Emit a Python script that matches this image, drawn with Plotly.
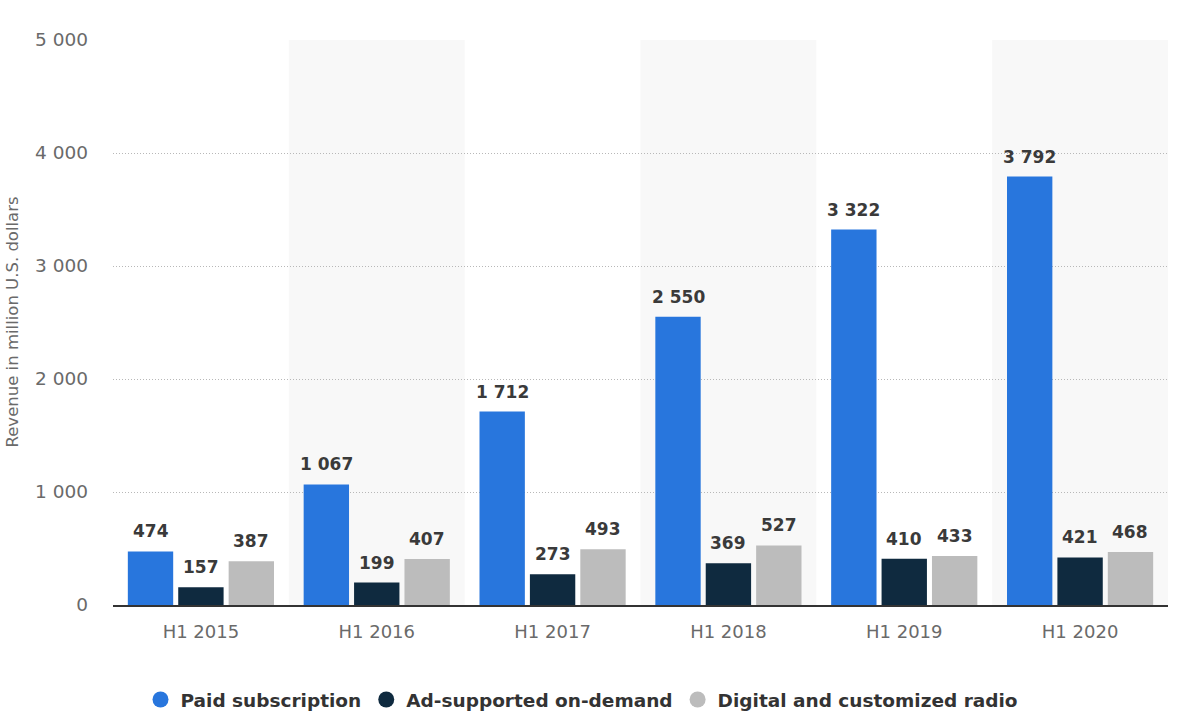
import plotly.graph_objects as go

categories = ["H1 2015", "H1 2016", "H1 2017", "H1 2018", "H1 2019", "H1 2020"]
paid = [474, 1067, 1712, 2550, 3322, 3792]
ad_supported = [157, 199, 273, 369, 410, 421]
radio = [387, 407, 493, 527, 433, 468]
series_names = ["Paid subscription", "Ad-supported on-demand", "Digital and customized radio"]
colors = ["#2876dd", "#0f2a3f", "#bcbcbc"]
y_ticks = [0, 1000, 2000, 3000, 4000, 5000]

SANS = "DejaVu Sans, sans-serif"
W, H = 1185, 713
M = dict(l=113, r=17, t=40, b=108)
BARGAP, BARGROUPGAP = 0.14, 0.1

plot_w = W - M["l"] - M["r"]
slot_px = plot_w / len(categories) * (1 - BARGAP) / len(series_names)

fig = go.Figure()
annotations = []
for k, (name, vals, col) in enumerate(zip(series_names, [paid, ad_supported, radio], colors)):
    fig.add_trace(go.Bar(
        x=categories, y=vals, name=name, marker=dict(color=col, line=dict(width=0)),
        showlegend=False, hoverinfo="x+y+name",
    ))
    fig.add_trace(go.Scatter(
        x=[None], y=[None], mode="markers", name=name,
        marker=dict(symbol="circle", size=18, color=col), showlegend=True,
    ))
    for c, v in zip(categories, vals):
        annotations.append(dict(
            x=c, y=v, xref="x", yref="y", text=f"{v:,}".replace(",", " "),
            showarrow=False, xanchor="center", yanchor="bottom",
            xshift=(k - 1) * slot_px, yshift=8,
            font=dict(family=SANS, size=17, color="#3a3a3a", weight="bold"),
        ))

annotations.append(dict(
    text="Revenue in million U.S. dollars", xref="paper", yref="paper",
    x=(12 - M["l"]) / plot_w, y=0.5, xanchor="center", yanchor="middle", textangle=-90,
    showarrow=False, font=dict(family=SANS, size=16.5, color="#6a6a6a"),
))

# alternating background bands
shapes = []
for i in range(1, len(categories), 2):
    shapes.append(dict(type="rect", xref="x", yref="paper", x0=i - 0.5, x1=i + 0.5,
                       y0=0, y1=1, fillcolor="#f8f8f8", line=dict(width=0), layer="below"))

fig.update_layout(
    width=W, height=H,
    margin=M,
    paper_bgcolor="white", plot_bgcolor="white",
    separators=". ",
    barmode="group", bargap=BARGAP, bargroupgap=BARGROUPGAP,
    shapes=shapes,
    annotations=annotations,
    font=dict(family=SANS, color="#666666"),
    legend=dict(orientation="h", x=(582 - M["l"]) / plot_w, xanchor="center", xref="paper",
                y=1 - 700 / H, yanchor="middle", yref="container",
                font=dict(family=SANS, size=18.5, color="#333333", weight="bold"),
                itemsizing="trace", traceorder="normal"),
    xaxis=dict(showgrid=False, showline=True, linecolor="#333333", linewidth=1.5,
               tickfont=dict(family=SANS, size=18, color="#6a6a6a"),
               ticks="", ticklabelstandoff=10, range=[-0.5, 5.5], fixedrange=True),
    yaxis=dict(range=[0, 5000], tickvals=y_ticks, tickformat=",", showgrid=True,
               gridcolor="#b8b8b8", griddash="1px,2px", gridwidth=1, zeroline=False,
               tickfont=dict(family=SANS, size=18.5, color="#6a6a6a"),
               ticks="", ticklabelstandoff=24),
)

fig.write_html("out.html", config={"displayModeBar": False},
               post_script="document.body.style.margin='0';")
